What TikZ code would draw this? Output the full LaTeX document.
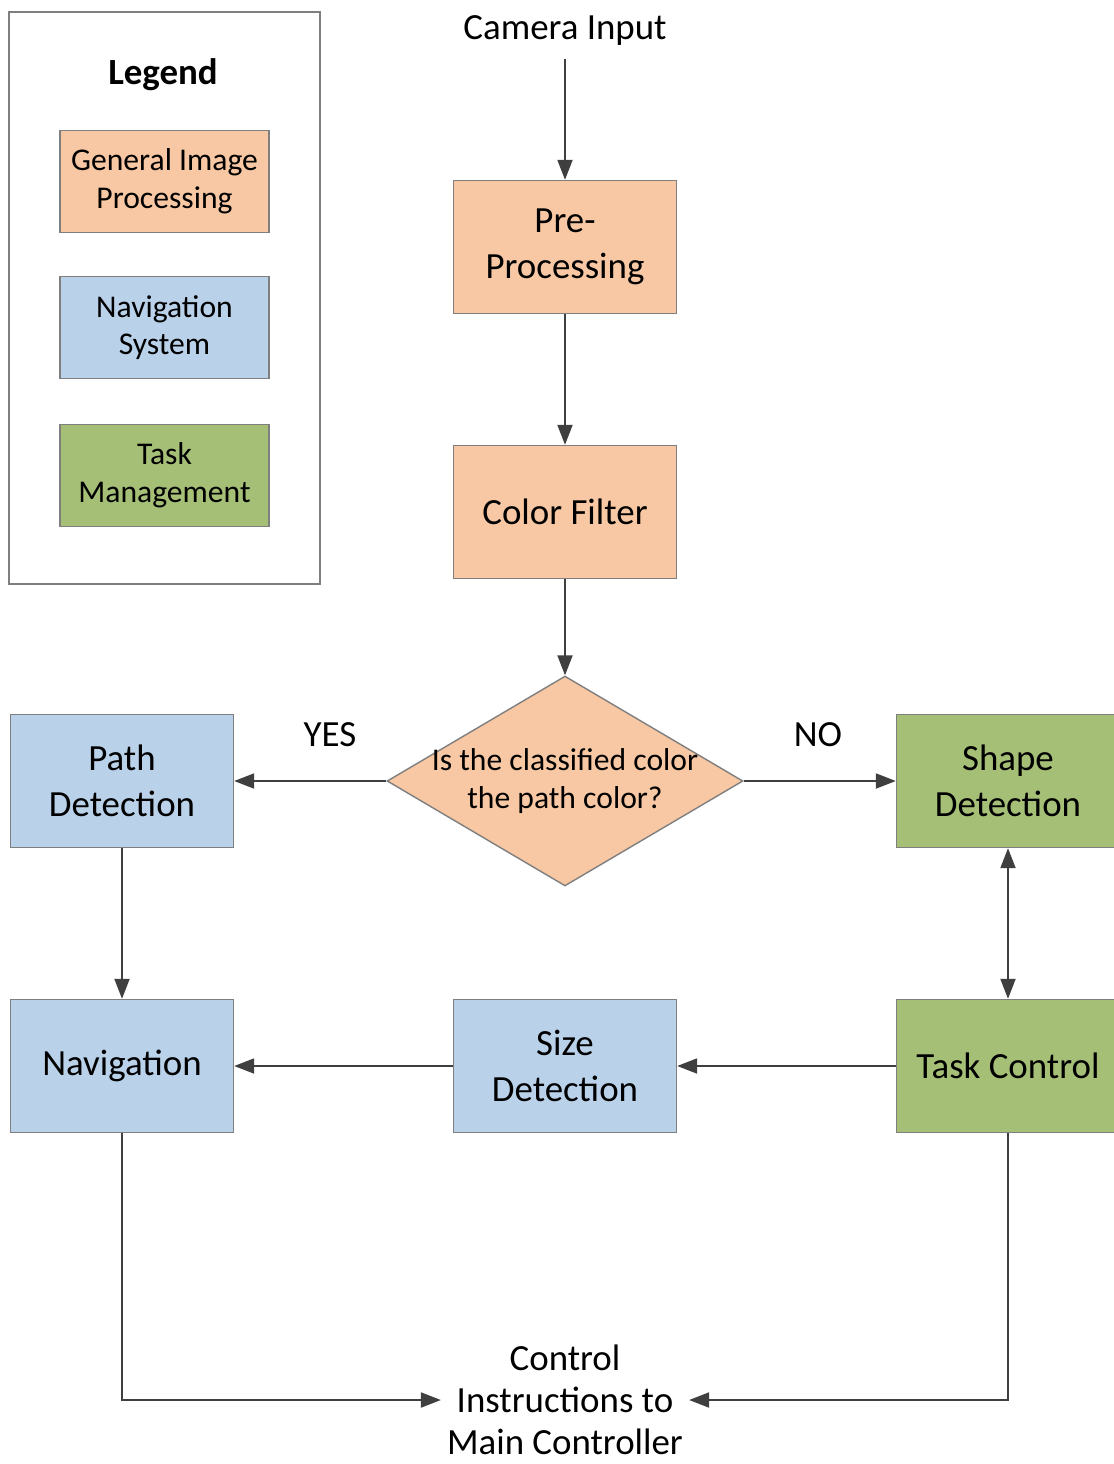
\documentclass[tikz,border=0pt]{standalone}
\usepackage{fontspec}
\setmainfont{Carlito}
\usetikzlibrary{positioning,arrows.meta,shapes.geometric}
\definecolor{procNaranja}{HTML}{F7C8A3}
\definecolor{navAzul}{HTML}{BAD1EA}
\definecolor{tareaVerde}{HTML}{A5BF76}
\definecolor{bordeGris}{HTML}{7F7F7F}
\definecolor{flechaGris}{HTML}{3F3F3F}
\tikzset{
  bloque/.style={rectangle, draw=bordeGris, line width=0.8pt,
    minimum width=4.46cm, minimum height=2.66cm, align=center,
    font=\fontsize{21}{26}\selectfont},
  leyenda/.style={rectangle, draw=bordeGris, line width=0.8pt,
    minimum width=4.18cm, minimum height=2.04cm, align=center,
    font=\fontsize{18}{21.5}\selectfont},
  texto/.style={align=center, font=\fontsize{21}{25}\selectfont},
  flecha/.style={-{Triangle[length=4mm,width=3mm]}, line width=1.1pt, flechaGris},
  flechaDoble/.style={{Triangle[length=4mm,width=3mm]}-{Triangle[length=4mm,width=3mm]},
    line width=1.1pt, flechaGris},
}
\begin{document}
\begin{tikzpicture}[x=0.02cm,y=-0.02cm]
  \useasboundingbox (0,0) rectangle (1114,1464);
  % leyenda
  \node[draw=bordeGris, line width=0.8pt, minimum width=6.22cm, minimum height=11.44cm] (ley) at (164.5,298) {};
  \node[font=\fontsize{21}{25}\selectfont\bfseries] (leytit) at (163,75) {Legend};
  \node[leyenda, fill=procNaranja] (leyproc) at (164.5,181.5) {General Image\\Processing};
  \node[leyenda, fill=navAzul]     (leynav)  at (164.5,327.5) {Navigation\\System};
  \node[leyenda, fill=tareaVerde]  (leytarea) at (164.5,475.5) {Task\\Management};

  % flujo principal
  \node[texto, inner sep=8pt] (cam) at (565,30) {Camera Input};
  \node[bloque, fill=procNaranja] (pre)   at (565,247)  {Pre-\\Processing};
  \node[bloque, fill=procNaranja] (color) at (565,512)  {Color Filter};
  \node[diamond, draw=bordeGris, line width=0.8pt, fill=procNaranja, inner sep=0pt,
        minimum width=7.12cm, minimum height=4.2cm,
        label={[font=\fontsize{18}{21.5}\selectfont, align=center]center:Is the classified color\\the path color?}] (dec) at (565,781) {};
  \node[bloque, fill=navAzul]    (path)  at (122,781)  {Path\\Detection};
  \node[bloque, fill=tareaVerde] (shape) at (1008,781) {Shape\\Detection};
  \node[bloque, fill=navAzul]    (nav)   at (122,1066) {Navigation};
  \node[bloque, fill=navAzul]    (size)  at (565,1066) {Size\\Detection};
  \node[bloque, fill=tareaVerde] (task)  at (1008,1066) {Task Control};
  \node[texto, font=\fontsize{21}{24}\selectfont] (ctrl) at (565,1400) {Control\\Instructions to\\Main Controller};
  \node[texto] (yes) at (330,735) {YES};
  \node[texto] (no)  at (818,735) {NO};

  \draw[flecha] (cam) -- (pre);
  \draw[flecha] (pre) -- (color);
  \draw[flecha] (color) -- (dec);
  \draw[flecha] (dec) -- (path);
  \draw[flecha] (dec) -- (shape);
  \draw[flecha] (path) -- (nav);
  \draw[flechaDoble] (shape) -- (task);
  \draw[flecha] (task) -- (size);
  \draw[flecha] (size) -- (nav);
  \draw[flecha] (nav) |- (ctrl);
  \draw[flecha] (task) |- (ctrl);
\end{tikzpicture}
\end{document}
